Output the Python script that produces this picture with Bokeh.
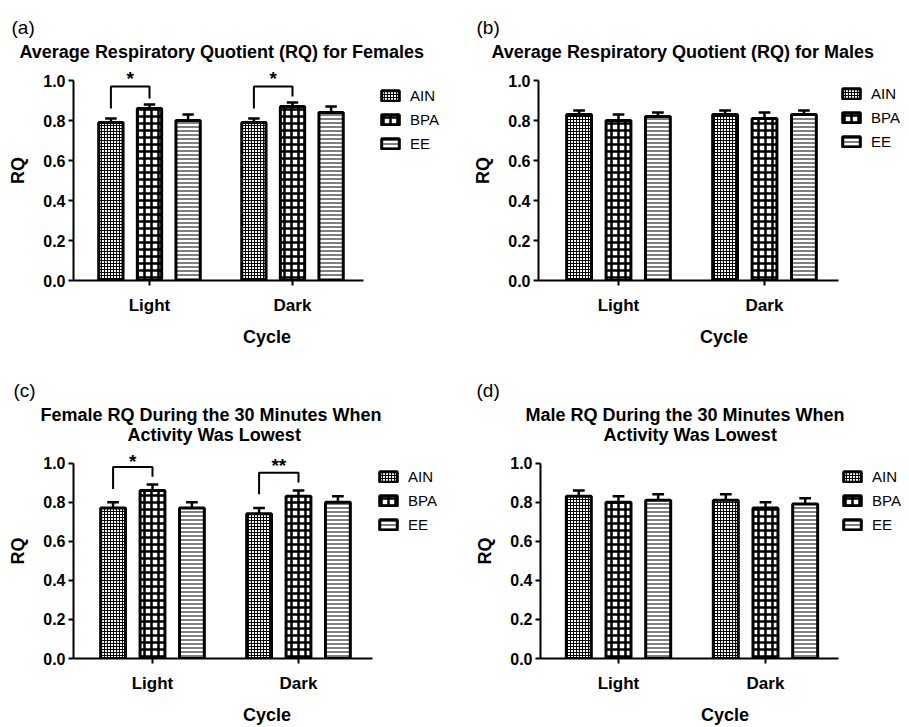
from bokeh.plotting import figure
from bokeh.models import (Range1d, FixedTicker, NumeralTickFormatter, Title, Legend,
                          LegendItem, ColumnDataSource)
from bokeh.layouts import row, column
from bokeh.embed import file_html
from bokeh.resources import INLINE
from bokeh.core.properties import value

FONT = "Liberation Sans"

cycles = ["Light", "Dark"]
groups = ["AIN", "BPA", "EE"]
y_ticks = [0.0, 0.2, 0.4, 0.6, 0.8, 1.0]

# (a) Average RQ, females
a_mean = {"AIN": [0.79, 0.79], "BPA": [0.86, 0.87], "EE": [0.80, 0.84]}
a_err = {"AIN": [0.02, 0.02], "BPA": [0.02, 0.02], "EE": [0.03, 0.03]}
# (b) Average RQ, males
b_mean = {"AIN": [0.83, 0.83], "BPA": [0.80, 0.81], "EE": [0.82, 0.83]}
b_err = {"AIN": [0.02, 0.02], "BPA": [0.03, 0.03], "EE": [0.02, 0.02]}
# (c) Female RQ, 30 min lowest activity
c_mean = {"AIN": [0.77, 0.74], "BPA": [0.86, 0.83], "EE": [0.77, 0.80]}
c_err = {"AIN": [0.03, 0.03], "BPA": [0.03, 0.03], "EE": [0.03, 0.03]}
# (d) Male RQ, 30 min lowest activity
d_mean = {"AIN": [0.83, 0.81], "BPA": [0.80, 0.77], "EE": [0.81, 0.79]}
d_err = {"AIN": [0.03, 0.03], "BPA": [0.03, 0.03], "EE": [0.03, 0.03]}

# significance brackets: (cycle index, left leg bottom, bracket top, right leg bottom, label, label y)
a_sig = [(0, 0.86, 0.97, 0.91, "*", 1.01), (1, 0.86, 0.97, 0.92, "*", 1.01)]
c_sig = [(0, 0.867, 0.98, 0.93, "*", 1.01), (1, 0.84, 0.95, 0.90, "**", 0.99)]

titles = {
    "a": ["Average Respiratory Quotient (RQ) for Females"],
    "b": ["Average Respiratory Quotient (RQ) for Males"],
    "c": ["Female RQ During the 30 Minutes When", "Activity Was Lowest"],
    "d": ["Male RQ During the 30 Minutes When", "Activity Was Lowest"],
}

PAT = {"AIN": "cross", "BPA": "cross", "EE": "horizontal_line"}
SCALE = {"AIN": 3, "BPA": 7, "EE": 4}
WEIGHT = {"AIN": 1, "BPA": 2.5, "EE": 1}

OFFS = [-0.27, 0.0, 0.27]
BAR_W = 0.17
CAP = 0.04


def make_panel(letter, means, errs, sig, W, H, geo, title_offs, letter_off, leg_xy):
    ml, mt, mb, px_light, px_dark, px_end = geo
    unit = px_dark - px_light
    lo = 1 - (px_light - ml) / unit
    hi_axis = 2 + (px_end - px_dark) / unit
    hi = 2 + (W - px_dark) / unit
    p = figure(width=W, height=H, output_backend="svg", toolbar_location=None,
               x_range=Range1d(lo, hi), y_range=Range1d(0, 1.1),
               min_border_left=ml, min_border_right=0, min_border_top=mt,
               min_border_bottom=mb, title=None)
    p.outline_line_color = None
    p.grid.visible = False
    p.background_fill_color = "white"

    rends = []
    for gi, g in enumerate(groups):
        xs = [i + 1 + OFFS[gi] for i in range(len(cycles))]
        tops = [m + e for m, e in zip(means[g], errs[g])]
        src = ColumnDataSource(dict(x=xs, top=means[g], etop=tops,
                                    cl=[x - CAP for x in xs], cr=[x + CAP for x in xs]))
        p.segment(x0="x", y0="top", x1="x", y1="etop", source=src,
                  line_color="black", line_width=2.5)
        p.segment(x0="cl", y0="etop", x1="cr", y1="etop", source=src,
                  line_color="black", line_width=2.5)
        r = p.vbar(x="x", top="top", bottom=0, width=BAR_W, source=src,
                   fill_color="white", line_color="black", line_width=3,
                   hatch_color="black", hatch_pattern=PAT[g], hatch_scale=SCALE[g],
                   hatch_weight=WEIGHT[g])
        rends.append(r)

    for (ci, lb, top, rb, lab, ly) in sig:
        x0 = ci + 1 + OFFS[0]
        x1 = ci + 1 + OFFS[1]
        p.multi_line(xs=[[x0, x0, x1, x1]], ys=[[lb, top, top, rb]],
                     line_color="black", line_width=2)
        p.text(x=[(x0 + x1) / 2], y=[ly], text=[lab], text_font=value(FONT),
               text_font_style="bold", text_font_size="19px", text_align="center",
               text_baseline="middle", text_color="black")

    legend = Legend(items=[LegendItem(label=g, renderers=[r]) for g, r in zip(groups, rends)],
                    location=leg_xy,
                    glyph_width=22, glyph_height=13, label_height=13, spacing=7,
                    padding=0, margin=0, border_line_color=None,
                    background_fill_alpha=0,
                    label_standoff=9, label_text_font=FONT, label_text_font_size="15px",
                    label_text_color="black")
    p.add_layout(legend)

    # axes
    p.yaxis.ticker = FixedTicker(ticks=y_ticks)
    p.yaxis.formatter = NumeralTickFormatter(format="0.0")
    p.yaxis.bounds = (0, 1)
    p.yaxis.axis_label = "RQ"
    p.xaxis.ticker = FixedTicker(ticks=[1, 2])
    p.xaxis.major_label_overrides = {1: cycles[0], 2: cycles[1]}
    p.xaxis.axis_label = "Cycle"
    p.xaxis.bounds = (lo, hi_axis)
    for ax in (p.xaxis, p.yaxis):
        ax.axis_line_width = 2
        ax.axis_line_color = "black"
        ax.major_tick_line_width = 2
        ax.major_tick_line_color = "black"
        ax.major_tick_out = 5
        ax.major_tick_in = 0
        ax.minor_tick_line_color = None
        ax.major_label_text_font = FONT
        ax.major_label_text_font_style = "bold"
        ax.major_label_text_color = "black"
        ax.axis_label_text_font = FONT
        ax.axis_label_text_font_style = "bold"
        ax.axis_label_text_font_size = "18px"
        ax.axis_label_text_color = "black"
    p.yaxis.major_label_text_font_size = "16px"
    p.xaxis.major_label_text_font_size = "17px"
    p.yaxis.major_label_standoff = 3
    p.xaxis.major_label_standoff = 10
    p.yaxis.axis_label_standoff = 12
    p.xaxis.axis_label_standoff = 9

    lines = titles[letter]
    for line, off in reversed(list(zip(lines, title_offs))):
        t = Title(text=line, align="left", offset=off, text_font=FONT,
                  text_font_size="18px", text_font_style="bold", text_color="black",
                  standoff=-2)
        p.add_layout(t, "above")
    lt = Title(text=f"({letter})", align="left", offset=letter_off, text_font=FONT,
               text_font_size="19px", text_font_style="normal", text_color="black",
               standoff=6)
    p.add_layout(lt, "above")
    return p


pa = make_panel("a", a_mean, a_err, a_sig, 460, 365, (73, 60, 85, 149, 292, 363),
                [-54], -62, (306, 128))
pb = make_panel("b", b_mean, b_err, [], 449, 365, (78, 60, 85, 158, 304, 378),
                [-47], -62, (302, 130))
pc = make_panel("c", c_mean, c_err, c_sig, 460, 362, (73, 78, 69, 152, 298, 372),
                [-33, 54], -60, (304, 125))
pd = make_panel("d", d_mean, d_err, [], 449, 362, (80, 78, 69, 158, 305, 378),
                [-15, 63], -64, (301, 125))

layout = column(row(pa, pb), row(pc, pd))
open("out.html", "w").write(file_html(layout, INLINE))
